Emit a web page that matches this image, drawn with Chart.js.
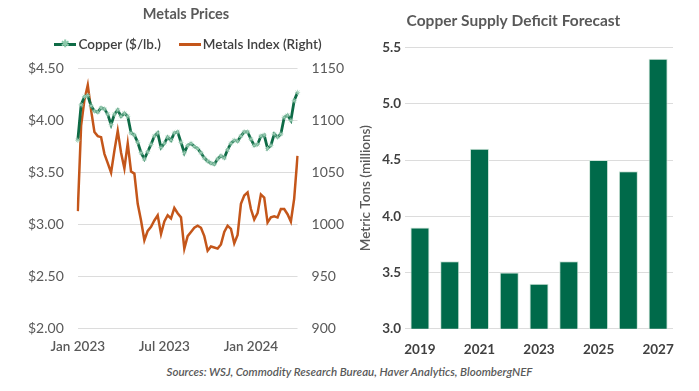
<!DOCTYPE html>
<html><head><meta charset="utf-8">
<script src="https://cdn.jsdelivr.net/npm/chart.js@4.4.1/dist/chart.umd.min.js"></script>
<style>
body{margin:0;background:#fff;width:699px;height:391px;overflow:hidden;position:relative;font-family:Lato,"Open Sans",sans-serif;}
#lwrap{position:absolute;left:0;top:0;width:358px;height:361px;}
#rwrap{position:absolute;left:350px;top:0;width:349px;height:363px;}
#legend{position:absolute;left:13px;top:34px;width:350px;text-align:center;font-size:13.5px;color:#404040;font-weight:600;white-space:nowrap;}
.li{display:inline-block;margin:0 9px;vertical-align:middle;}
.sw{display:inline-block;width:22px;height:3px;vertical-align:middle;margin-right:2px;position:relative;top:-1px;}
.star{position:absolute;left:7px;top:-6px;font-size:10px;color:#8cc9ab;line-height:12px;}
#src{position:absolute;left:0;top:365px;width:699px;text-align:center;font-size:11.5px;font-style:italic;font-weight:600;color:#595959;}
</style></head>
<body>
<div id="rwrap"><canvas id="right"></canvas></div>
<div id="lwrap"><canvas id="left"></canvas></div>
<div id="legend"><span class="li"><span class="sw" style="background:#0e6b46"><span class="star">✱</span></span>Copper ($/lb.)</span><span class="li"><span class="sw" style="background:#c4561a"></span>Metals Index (Right)</span></div>
<div id="src">Sources: WSJ, Commodity Research Bureau, Haver Analytics, BloombergNEF</div>
<script>
// Weekly observations, Jan 2023 - Apr 2024
const copper = [3.81,4.15,4.23,4.24,4.14,4.09,4.08,4.12,4.11,4.06,3.96,4.06,4.10,4.04,4.07,4.04,3.88,3.86,3.79,3.69,3.63,3.70,3.77,3.85,3.88,3.74,3.78,3.84,3.81,3.88,3.89,3.79,3.69,3.76,3.78,3.75,3.73,3.69,3.64,3.61,3.59,3.58,3.63,3.66,3.64,3.72,3.78,3.81,3.80,3.85,3.89,3.89,3.82,3.76,3.77,3.85,3.86,3.73,3.76,3.87,3.84,3.87,4.03,4.05,4.00,4.19,4.27];
const metalsIndex = [1013,1095,1120,1134,1110,1089,1085,1084,1068,1059,1050,1071,1090,1069,1054,1078,1051,1049,1020,1004,985,994,998,1004,1009,991,1003,1009,1006,1016,1011,1007,977,989,993,997,999,997,989,975,979,978,977,981,993,999,996,982,990,1020,1028,1031,1015,1005,1011,1029,1026,1002,1007,1008,1007,1015,1015,1010,1003,1025,1066];
const weekLabels = [];
for (let i = 0; i < copper.length; i++) { weekLabels.push('W' + i); }
const xTickLabels = {0:'Jan 2023', 26:'Jul 2023', 52:'Jan 2024'};

const years = ['2019','2020','2021','2022','2023','2024','2025','2026','2027'];
const deficit = [3.9,3.6,4.6,3.5,3.4,3.6,4.5,4.4,5.4];

const grey = '#595959';
const tickFont = {family:'Lato', size:14};

new Chart(document.getElementById('left'), {
  type:'line',
  data:{labels:weekLabels, datasets:[
    {label:'Copper ($/lb.)', data:copper, yAxisID:'y', borderColor:'#0e6b46', borderWidth:2.8,
     pointStyle:'star', pointRadius:2.6, pointBorderColor:'#9fd1b8', pointBorderWidth:0.8, pointBackgroundColor:'#9fd1b8', tension:0, order:1},
    {label:'Metals Index (Right)', data:metalsIndex, yAxisID:'y1', borderColor:'#c4561a', borderWidth:2.5, pointRadius:0, tension:0, order:2}
  ]},
  options:{
    responsive:true, maintainAspectRatio:false, animation:false,
    layout:{padding:{left:14, right:0, top:0, bottom:4}},
    plugins:{legend:{display:false}, tooltip:{enabled:false},
      title:{display:true, text:'Metals Prices', color:grey, font:{family:'Lato', size:14.5, weight:'bold'}, padding:{top:6, bottom:45}}},
    scales:{
      x:{grid:{display:false}, border:{display:false},
         ticks:{autoSkip:false, maxRotation:0, color:grey, font:{family:'Lato', size:13.5, weight:'600'}, padding:2,
                callback:(v,i)=> xTickLabels[i] || ''}},
      y:{min:2, max:4.5, position:'left', border:{display:false},
         grid:{color:'#dcdcdc', lineWidth:1, drawTicks:false},
         ticks:{stepSize:0.5, color:grey, font:tickFont, padding:14, callback:v=>'$'+v.toFixed(2)}},
      y1:{min:900, max:1150, position:'right', border:{display:false}, grid:{display:false, drawTicks:false},
         ticks:{stepSize:50, color:grey, font:tickFont, padding:14, callback:v=>String(v)}}
    }
  }
});

new Chart(document.getElementById('right'), {
  type:'bar',
  data:{labels:years, datasets:[{label:'Deficit', data:deficit, backgroundColor:'#006a4a', borderColor:'#cfe5da', borderWidth:1,
     categoryPercentage:1, barPercentage:0.64}]},
  options:{
    responsive:true, maintainAspectRatio:false, animation:false,
    layout:{padding:{left:4, right:26, top:0, bottom:0}},
    plugins:{legend:{display:false}, tooltip:{enabled:false},
      title:{display:true, text:'Copper Supply Deficit Forecast', color:grey, font:{family:'Lato', size:15.5, weight:'bold'}, padding:{top:12, bottom:17}}},
    scales:{
      x:{grid:{display:false}, border:{display:false},
         ticks:{autoSkip:false, maxRotation:0, color:'#404040', font:{family:'Lato', size:13.5, weight:'bold'}, padding:5,
                callback:(v,i)=> i%2===0 ? years[i] : ''}},
      y:{min:3, max:5.5, border:{display:false}, grid:{color:'#dcdcdc', drawTicks:false},
         title:{display:true, text:'Metric Tons (millions)', color:grey, font:{family:'Lato', size:13.5, weight:'600'}, padding:{bottom:4}},
         ticks:{stepSize:0.5, color:'#404040', font:{family:'Lato', size:13.5, weight:'bold'}, padding:4, callback:v=>v.toFixed(1)}}
    }
  }
});
</script>
</body></html>
